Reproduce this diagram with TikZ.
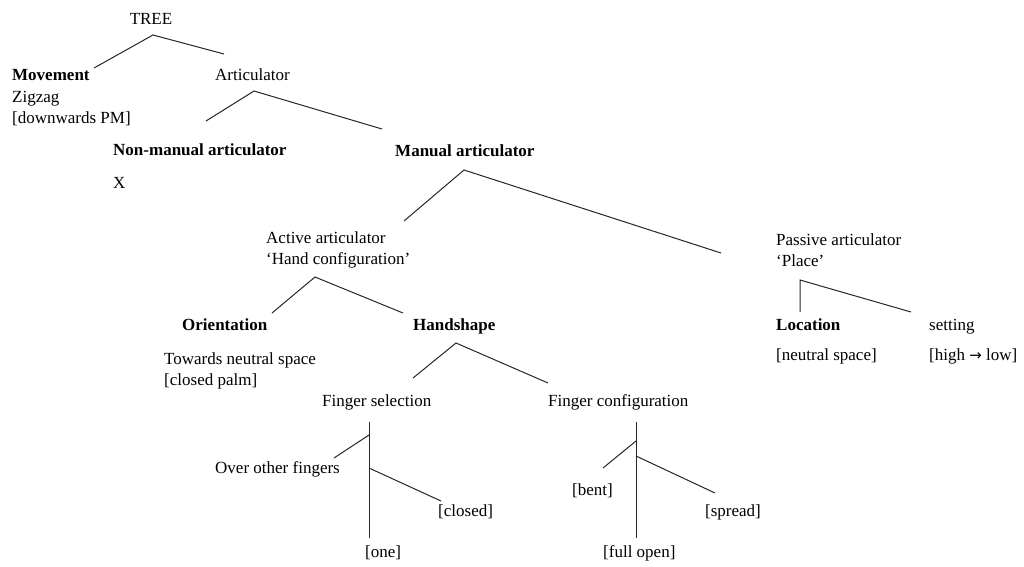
\documentclass[tikz,border=0pt]{standalone}
\usepackage{fontspec}
\setmainfont{Liberation Serif}
\newfontfamily\arrowfont{DejaVu Sans}
\begin{document}
\begin{tikzpicture}[x=1pt,y=-1pt,
  lbl/.style={inner sep=0pt, anchor=base west, font=\fontsize{17}{21}\selectfont},
  hd/.style={lbl, font=\fontsize{17}{21}\selectfont\bfseries},
  branch/.style={line width=1pt, black!85}]
\useasboundingbox (0,0) rectangle (1024,566);

% ---- labels ----
\node[lbl, anchor=base] (tree) at (151,24) {TREE};
\node[hd] (movement) at (12,80) {Movement};
\node[lbl] (zigzag) at (12,102) {Zigzag};
\node[lbl] (downpm) at (12,123) {[downwards PM]};
\node[lbl] (artic) at (215,80) {Articulator};
\node[hd] (nonman) at (113,155) {Non-manual articulator};
\node[lbl] (xval) at (113,188) {X};
\node[hd] (manual) at (395,156) {Manual articulator};
\node[lbl] (active) at (266,243) {Active articulator};
\node[lbl] (handconf) at (266,264) {‘Hand configuration’};
\node[lbl] (passive) at (776,245) {Passive articulator};
\node[lbl] (place) at (776,266) {‘Place’};
\node[hd] (orient) at (182,330) {Orientation};
\node[hd] (handshape) at (413,330) {Handshape};
\node[hd] (location) at (776,330) {Location};
\node[lbl] (setting) at (929,330) {setting};
\node[lbl] (towards) at (164,364) {Towards neutral space};
\node[lbl] (closedpalm) at (164,385) {[closed palm]};
\node[lbl] (neutral) at (776,360) {[neutral space]};
\node[lbl] (highlow) at (929,360) {[high {\arrowfont\fontsize{15}{15}\selectfont →} low]};
\node[lbl] (fsel) at (322,406) {Finger selection};
\node[lbl] (fconf) at (548,406) {Finger configuration};
\node[lbl] (over) at (215,473) {Over other fingers};
\node[lbl] (closed) at (438,516) {[closed]};
\node[lbl] (bent) at (572,495) {[bent]};
\node[lbl] (spread) at (705,516) {[spread]};
\node[lbl] (one) at (365,557) {[one]};
\node[lbl] (fullopen) at (603,557) {[full open]};

% ---- branch points ----
\coordinate (t-apex) at (153,35);  \coordinate (t-l) at (94,68);   \coordinate (t-r) at (224,54);
\coordinate (a-apex) at (254,91);  \coordinate (a-l) at (206,121); \coordinate (a-r) at (382,129);
\coordinate (m-apex) at (464,170); \coordinate (m-l) at (404,221); \coordinate (m-r) at (721,253);
\coordinate (ac-apex) at (315,277); \coordinate (ac-l) at (272,313); \coordinate (ac-r) at (403,313);
\coordinate (p-apex) at (800,280); \coordinate (p-l) at (800,312); \coordinate (p-r) at (911,312);
\coordinate (h-apex) at (456,343); \coordinate (h-l) at (413,378); \coordinate (h-r) at (548,383);
\coordinate (fs-top) at (369,422); \coordinate (fs-bot) at (369,538);
\coordinate (fs-lj) at (369,435);  \coordinate (fs-l) at (334,458);
\coordinate (fs-rj) at (369,468);  \coordinate (fs-r) at (441,501);
\coordinate (fc-top) at (636,422); \coordinate (fc-bot) at (636,538);
\coordinate (fc-lj) at (636,441);  \coordinate (fc-l) at (603,468);
\coordinate (fc-rj) at (636,456);  \coordinate (fc-r) at (715,493);

% ---- branches ----
\draw[branch] (t-l) -- (t-apex) -- (t-r);
\draw[branch] (a-l) -- (a-apex) -- (a-r);
\draw[branch] (m-l) -- (m-apex) -- (m-r);
\draw[branch] (ac-l) -- (ac-apex) -- (ac-r);
\draw[branch] (p-l) -- (p-apex) -- (p-r);
\draw[branch] (h-l) -- (h-apex) -- (h-r);
\draw[branch] (fs-top) -- (fs-bot);
\draw[branch] (fs-lj) -- (fs-l);
\draw[branch] (fs-rj) -- (fs-r);
\draw[branch] (fc-top) -- (fc-bot);
\draw[branch] (fc-lj) -- (fc-l);
\draw[branch] (fc-rj) -- (fc-r);
\end{tikzpicture}
\end{document}
